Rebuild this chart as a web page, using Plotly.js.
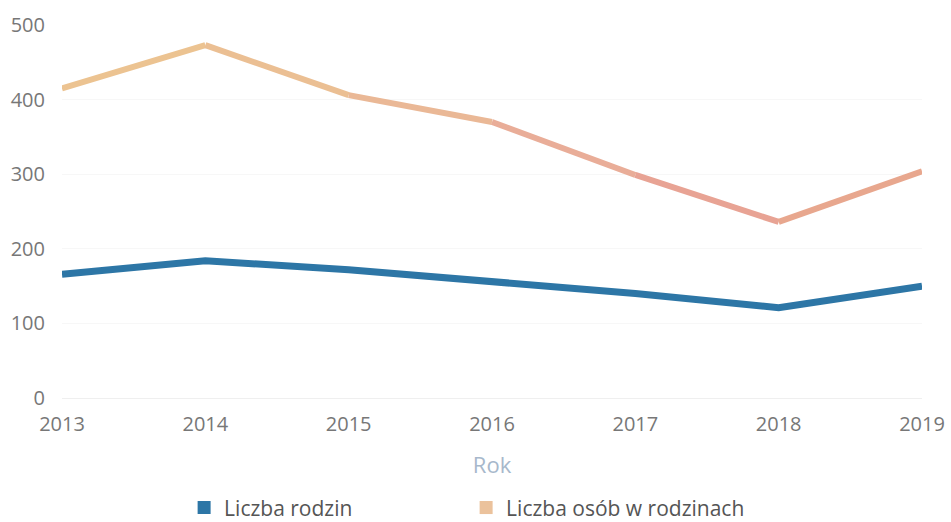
<!DOCTYPE html>
<html>
<head>
<meta charset="utf-8">
<script src="https://cdn.plot.ly/plotly-3.0.1.min.js"></script>
<style>html,body{margin:0;padding:0;background:#fff;}#chart{width:951px;height:522px;}</style>
</head>
<body>
<div id="chart"></div>
<script>
const years = [2013, 2014, 2015, 2016, 2017, 2018, 2019];
const liczbaRodzin = [166, 184, 172, 157, 140, 121, 150];
const liczbaOsob = [415, 473, 406, 370, 299, 236, 304];
const seriesNames = ['Liczba rodzin', 'Liczba osób w rodzinach'];
const xTitle = 'Rok';

const blue = '#2d76a6';
const orangeLegend = '#ebc29c';
const segColors = ['#ecc391', '#ebbf93', '#eab896', '#e9ad98', '#e8a394', '#e8a78e'];

const traces = [];
for (let i = 0; i < years.length - 1; i++) {
  traces.push({
    x: [years[i], years[i + 1]],
    y: [liczbaOsob[i], liczbaOsob[i + 1]],
    mode: 'lines',
    line: {color: segColors[i], width: 6},
    showlegend: false,
    hoverinfo: 'skip'
  });
}
traces.push({
  x: years, y: liczbaRodzin, mode: 'lines',
  line: {color: blue, width: 7}, showlegend: false, name: seriesNames[0]
});
traces.push({x: [null], y: [null], mode: 'markers', name: seriesNames[0],
  marker: {symbol: 'square', color: blue, size: 13}});
traces.push({x: [null], y: [null], mode: 'markers', name: seriesNames[1],
  marker: {symbol: 'square', color: orangeLegend, size: 13}});

const layout = {
  width: 951, height: 522,
  margin: {l: 62, r: 29, t: 25, b: 124},
  paper_bgcolor: '#fff', plot_bgcolor: '#fff',
  font: {family: '"Open Sans", sans-serif', color: '#777', size: 20},
  xaxis: {
    range: [2013, 2019], tickvals: years, ticktext: years.map(String),
    showgrid: false, zeroline: false, showline: false,
    ticks: '', tickfont: {size: 20, color: '#777'}, ticklabelstandoff: 12,
    title: {text: xTitle, font: {size: 22, color: '#a7b8cb'}, standoff: 21},
    automargin: false
  },
  yaxis: {
    range: [0, 500], tickvals: [0, 100, 200, 300, 400, 500],
    showgrid: true, gridcolor: '#f7f7f7', zeroline: true, zerolinecolor: '#efefef',
    showline: false, ticks: '', tickfont: {size: 20, color: '#777'},
    ticklabelstandoff: 16, automargin: false
  },
  legend: {
    orientation: 'h', x: 0.142, xanchor: 'left',
    yref: 'container', y: 0.027, yanchor: 'middle',
    font: {size: 21, color: '#555'}, itemwidth: 30, traceorder: 'normal',
    entrywidth: 237
  },
  showlegend: true
};

Plotly.newPlot('chart', traces, layout, {displayModeBar: false, staticPlot: true});
</script>
</body>
</html>
